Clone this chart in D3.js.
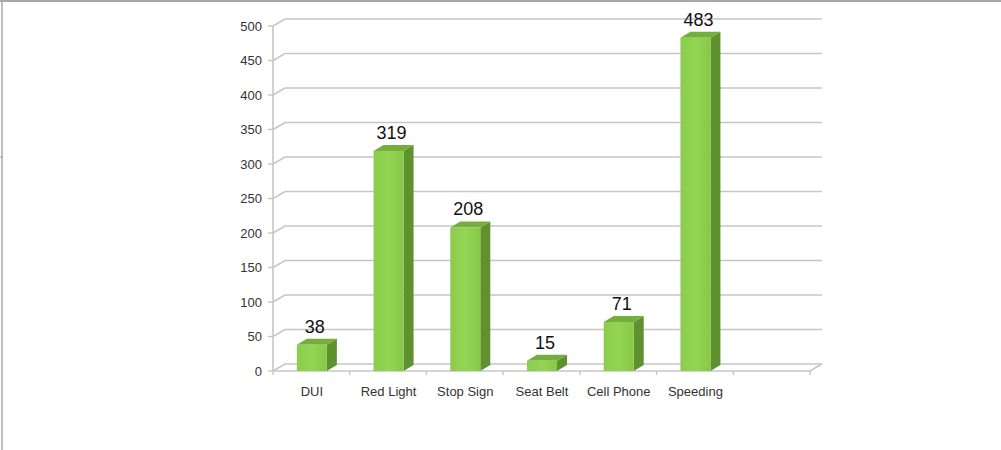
<!DOCTYPE html>
<html>
<head>
<meta charset="utf-8">
<script src="https://cdn.jsdelivr.net/npm/d3@7/dist/d3.min.js"></script>
<style>
  html, body { margin: 0; padding: 0; background: #fff; }
  svg { display: block; }
</style>
</head>
<body>
<svg id="chart" width="1001" height="450"></svg>
<script>
// ---- data ----
const categories = ["DUI", "Red Light", "Stop Sign", "Seat Belt", "Cell Phone", "Speeding", ""];
const values = [38, 319, 208, 15, 71, 483, null];
const yTicks = [0, 50, 100, 150, 200, 250, 300, 350, 400, 450, 500];

// ---- layout ----
const svg = d3.select("#chart");
const W = 1001, H = 450;
const x0 = 273, x1 = 810, yZero = 371, yTop = 26;
const wallDX = 12, wallDY = -7;
const barDX = 10, barDY = -6;
const barW = 30;

const x = d3.scaleBand().domain(categories.map((c, i) => i)).range([x0, x1]);
const y = d3.scaleLinear().domain([0, 500]).range([yZero, yTop]);

// frame
svg.append("line").attr("x1", 0).attr("x2", W).attr("y1", 1).attr("y2", 1)
  .attr("stroke", "#a8a8a8").attr("stroke-width", 2);
svg.append("line").attr("x1", 2).attr("x2", 2).attr("y1", 0).attr("y2", H)
  .attr("stroke", "#a8a8a8").attr("stroke-width", 1.5);
svg.append("line").attr("x1", 0).attr("x2", 3).attr("y1", 157).attr("y2", 157)
  .attr("stroke", "#a8a8a8").attr("stroke-width", 1);

const grid = svg.append("g");
const gridColor = "#c6c6c6";

// gridlines on back wall with diagonal from front axis
yTicks.forEach(t => {
  const yy = y(t);
  grid.append("path")
    .attr("d", `M${x0},${yy} L${x0 + wallDX},${yy + wallDY} L${x1 + wallDX},${yy + wallDY}`)
    .attr("fill", "none").attr("stroke", gridColor).attr("stroke-width", 1.6);
});

// floor front edge and right diagonal
grid.append("path")
  .attr("d", `M${x0},${yZero} L${x1},${yZero} L${x1 + wallDX},${yZero + wallDY}`)
  .attr("fill", "none").attr("stroke", gridColor).attr("stroke-width", 1.6);

// vertical axis line (front)
grid.append("line").attr("x1", x0).attr("x2", x0).attr("y1", y(500)).attr("y2", yZero)
  .attr("stroke", gridColor).attr("stroke-width", 1.6);

// y ticks + labels
const yAxis = svg.append("g");
yTicks.forEach(t => {
  yAxis.append("line").attr("x1", x0 - 5).attr("x2", x0).attr("y1", y(t)).attr("y2", y(t))
    .attr("stroke", gridColor).attr("stroke-width", 1.4);
  yAxis.append("text").attr("x", x0 - 11).attr("y", y(t)).attr("dy", "0.36em")
    .attr("text-anchor", "end")
    .attr("font-family", "'Liberation Sans', Arial, sans-serif").attr("font-size", 13)
    .attr("fill", "#333").text(t);
});

// category ticks + labels
const xAxis = svg.append("g");
const bounds = categories.map((c, i) => x(i)).concat([x1]);
bounds.forEach(b => {
  xAxis.append("line").attr("x1", b).attr("x2", b).attr("y1", yZero).attr("y2", yZero + 4)
    .attr("stroke", gridColor).attr("stroke-width", 1.4);
});
categories.forEach((c, i) => {
  xAxis.append("text").attr("x", x(i) + x.bandwidth() / 2 + 0.5).attr("y", 396)
    .attr("text-anchor", "middle")
    .attr("font-family", "'Liberation Sans', Arial, sans-serif").attr("font-size", 13)
    .attr("fill", "#333").text(c);
});

// gradient for the front face
const defs = svg.append("defs");
const gFront = defs.append("linearGradient").attr("id", "gFront").attr("x1", 0).attr("x2", 1).attr("y1", 0).attr("y2", 0);
gFront.append("stop").attr("offset", "0%").attr("stop-color", "#8ccc4c");
gFront.append("stop").attr("offset", "50%").attr("stop-color", "#94d554");
gFront.append("stop").attr("offset", "100%").attr("stop-color", "#88c848");

// bars
const bars = svg.append("g");
values.forEach((v, i) => {
  if (v == null) return;
  const cx = x(i) + x.bandwidth() / 2 + 0.5;
  const L = cx - barW / 2, R = cx + barW / 2;
  const yt = y(v), yb = yZero;
  // side
  bars.append("path")
    .attr("d", `M${R},${yt} L${R + barDX},${yt + barDY} L${R + barDX},${yb + barDY} L${R},${yb} Z`)
    .attr("fill", "#5f912f");
  // top
  bars.append("path")
    .attr("d", `M${L},${yt} L${L + barDX},${yt + barDY} L${R + barDX},${yt + barDY} L${R},${yt} Z`)
    .attr("fill", "#75ae3c");
  // front
  bars.append("rect").attr("x", L).attr("y", yt).attr("width", barW).attr("height", yb - yt)
    .attr("fill", "url(#gFront)");
  // value label
  bars.append("text").attr("x", cx + 3).attr("y", yt - 12)
    .attr("text-anchor", "middle")
    .attr("font-family", "'Liberation Sans', Arial, sans-serif").attr("font-size", 18)
    .attr("fill", "#111").text(v);
});
</script>
</body>
</html>
